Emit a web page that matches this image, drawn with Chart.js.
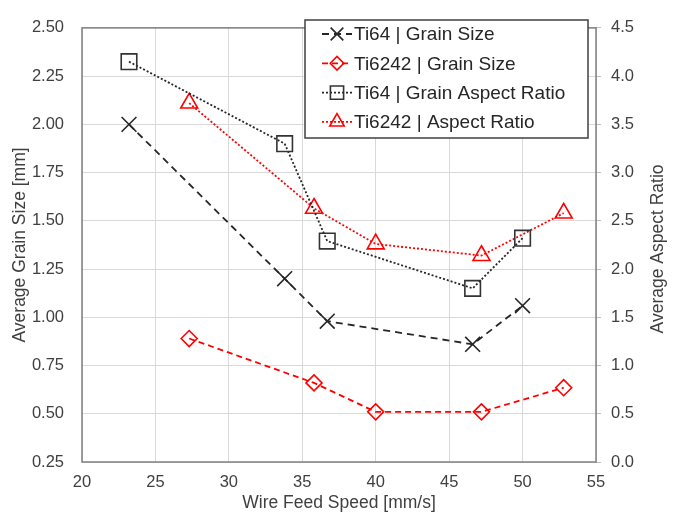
<!DOCTYPE html>
<html>
<head>
<meta charset="utf-8">
<script src="https://cdn.jsdelivr.net/npm/chart.js@4/dist/chart.umd.min.js"></script>
<style>
html,body{margin:0;padding:0;background:#fff;}
#wrap{width:673px;height:516px;position:relative;}
</style>
</head>
<body>
<div id="wrap"><canvas id="c" width="673" height="516"></canvas></div>
<script>
// ---- data ----
const ti64Speed = [23.2, 33.8, 36.7, 46.6, 50.0];
const ti6242Speed = [27.3, 35.8, 40.0, 47.2, 52.8];
const ti64GrainSize = [2.00, 1.20, 0.98, 0.86, 1.06];
const ti6242GrainSize = [0.89, 0.66, 0.51, 0.51, 0.635];
const ti64AspectRatio = [4.15, 3.30, 2.29, 1.80, 2.32];
const ti6242AspectRatio = [3.72, 2.63, 2.26, 2.14, 2.58];
const seriesLabels = ['Ti64 | Grain Size', 'Ti6242 | Grain Size', 'Ti64 | Grain Aspect Ratio', 'Ti6242 | Aspect Ratio'];
const xTitle = 'Wire Feed Speed [mm/s]';
const yTitle = 'Average Grain Size [mm]';
const y2Title = 'Average Aspect Ratio';

const pts = (xs, ys) => xs.map((x, i) => ({x: x, y: ys[i]}));
const FONT = '"Liberation Sans", Arial, sans-serif';
const TXT = '#404040';
const GRID = '#d9d9d9';

const datasets = [
  {label: seriesLabels[0], data: pts(ti64Speed, ti64GrainSize), yAxisID: 'y',
   borderColor: '#262626', borderWidth: 1.8, borderDash: [7, 5],
   pointStyle: 'crossRot', pointRadius: 10.5, pointBorderColor: '#262626', pointBorderWidth: 1.6},
  {label: seriesLabels[1], data: pts(ti6242Speed, ti6242GrainSize), yAxisID: 'y',
   borderColor: '#ff0000', borderWidth: 1.8, borderDash: [6, 4],
   pointStyle: 'rectRot', pointRadius: 8, pointBorderColor: '#ff0000', pointBorderWidth: 1.6},
  {label: seriesLabels[2], data: pts(ti64Speed, ti64AspectRatio), yAxisID: 'y1',
   borderColor: '#262626', borderWidth: 1.8, borderDash: [2, 2],
   pointStyle: 'rect', pointRadius: 11, pointBorderColor: '#333333', pointBorderWidth: 1.6},
  {label: seriesLabels[3], data: pts(ti6242Speed, ti6242AspectRatio), yAxisID: 'y1',
   borderColor: '#ff0000', borderWidth: 1.8, borderDash: [2, 2],
   pointStyle: 'triangle', pointRadius: 9.8, pointBorderColor: '#ff0000', pointBorderWidth: 1.6}
];
datasets.forEach(d => {
  d.showLine = true; d.fill = false; d.tension = 0;
  d.pointBackgroundColor = 'rgba(0,0,0,0)';
  d.pointHoverRadius = d.pointRadius;
});

function ownDrawPoint(ctx, style, r, x, y) {
  ctx.beginPath();
  if (style === 'crossRot') {
    const o = r * Math.SQRT1_2;
    ctx.moveTo(x - o, y - o); ctx.lineTo(x + o, y + o);
    ctx.moveTo(x + o, y - o); ctx.lineTo(x - o, y + o);
  } else if (style === 'rect') {
    const s = r * Math.SQRT1_2;
    ctx.rect(x - s, y - s, 2 * s, 2 * s);
  } else if (style === 'rectRot') {
    ctx.moveTo(x - r, y); ctx.lineTo(x, y - r); ctx.lineTo(x + r, y); ctx.lineTo(x, y + r); ctx.closePath();
  } else if (style === 'triangle') {
    ctx.moveTo(x, y - r);
    ctx.lineTo(x + r * Math.sin(Math.PI / 3), y + r / 2);
    ctx.lineTo(x - r * Math.sin(Math.PI / 3), y + r / 2);
    ctx.closePath();
  }
  ctx.stroke();
}

const framePlugin = {
  id: 'frame',
  beforeDatasetsDraw(chart) {
    const a = chart.chartArea, ctx = chart.ctx;
    ctx.save();
    ctx.strokeStyle = '#7f7f7f';
    ctx.lineWidth = 1.5;
    ctx.strokeRect(a.left, a.top, a.right - a.left, a.bottom - a.top);
    ctx.restore();
  }
};

const extrasPlugin = {
  id: 'extras',
  afterDraw(chart) {
    const ctx = chart.ctx, a = chart.chartArea;
    ctx.save();
    // right axis title, reading bottom-to-top
    ctx.translate(658, (a.top + a.bottom) / 2 + 4);
    ctx.rotate(-Math.PI / 2);
    ctx.fillStyle = TXT;
    ctx.font = '17.5px ' + FONT;
    ctx.textAlign = 'center';
    ctx.textBaseline = 'middle';
    ctx.fillText(y2Title, 0, 0);
    ctx.restore();

    // boxed legend
    ctx.save();
    const bx = 305, by = 20, bw = 283, bh = 118;
    ctx.fillStyle = '#ffffff';
    ctx.fillRect(bx, by, bw, bh);
    ctx.strokeStyle = '#404040';
    ctx.lineWidth = 1.5;
    ctx.strokeRect(bx, by, bw, bh);
    chart.data.datasets.forEach((ds, i) => {
      const cy = 34 + i * 29.3;
      ctx.setLineDash(ds.borderDash);
      ctx.strokeStyle = ds.borderColor;
      ctx.lineWidth = ds.borderWidth;
      ctx.beginPath(); ctx.moveTo(322, cy); ctx.lineTo(352, cy); ctx.stroke();
      ctx.setLineDash([]);
      ctx.strokeStyle = ds.pointBorderColor;
      ctx.lineWidth = ds.pointBorderWidth;
      ownDrawPoint(ctx, ds.pointStyle, ds.pointRadius * 0.85, 337, cy);
      ctx.fillStyle = '#262626';
      ctx.font = '19px ' + FONT;
      ctx.textAlign = 'left';
      ctx.textBaseline = 'middle';
      ctx.fillText(ds.label, 354, cy + 1);
    });
    ctx.restore();
  }
};

new Chart(document.getElementById('c'), {
  type: 'line',
  data: {datasets: datasets},
  plugins: [framePlugin, extrasPlugin],
  options: {
    responsive: false,
    animation: false,
    devicePixelRatio: 1,
    layout: {padding: {top: 16, left: 0, right: 0, bottom: 0}},
    plugins: {legend: {display: false}, tooltip: {enabled: false}},
    scales: {
      x: {
        type: 'linear', min: 20, max: 55,
        ticks: {stepSize: 5, color: TXT, font: {family: FONT, size: 16.5}, padding: 11, maxRotation: 0},
        grid: {color: GRID, lineWidth: 1, drawTicks: false},
        border: {display: false},
        title: {display: true, text: xTitle, color: TXT, font: {family: FONT, size: 17.5}, padding: {top: 0, bottom: 2}},
        afterFit(s) { s.height = 54; }
      },
      y: {
        type: 'linear', position: 'left', min: 0.25, max: 2.5,
        ticks: {stepSize: 0.25, color: TXT, font: {family: FONT, size: 16.5}, padding: 18,
                callback: v => Number(v).toFixed(2)},
        grid: {color: GRID, lineWidth: 1, drawTicks: false},
        border: {display: false},
        title: {display: true, text: yTitle, color: TXT, font: {family: FONT, size: 17.5}, padding: {top: 10, bottom: 0}},
        afterFit(s) { s.width = 82; }
      },
      y1: {
        type: 'linear', position: 'right', min: 0, max: 4.5,
        ticks: {stepSize: 0.5, color: TXT, font: {family: FONT, size: 16.5}, padding: 10,
                callback: v => Number(v).toFixed(1)},
        grid: {drawOnChartArea: false, drawTicks: true, tickLength: 5, tickColor: '#bfbfbf'},
        border: {display: false},
        title: {display: false},
        afterFit(s) { s.width = 77; }
      }
    }
  }
});
</script>
</body>
</html>
